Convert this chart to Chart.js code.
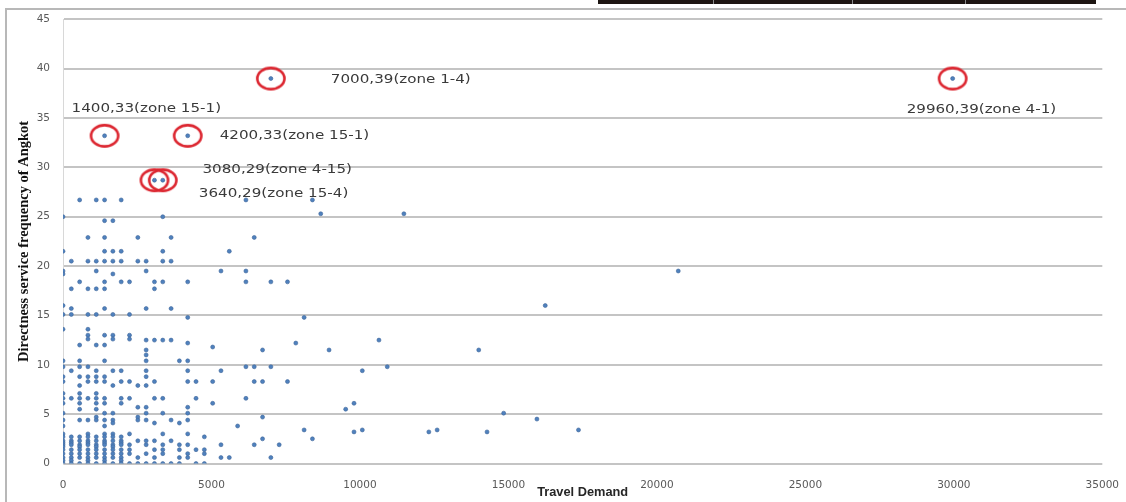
<!DOCTYPE html>
<html>
<head>
<meta charset="utf-8">
<script src="https://cdn.jsdelivr.net/npm/chart.js@4.4.0/dist/chart.umd.min.js"></script>
<style>
  html, body { margin: 0; padding: 0; background: #fff; }
  #wrap { position: relative; width: 1126px; height: 502px; overflow: hidden; }
  #canvas { display: block; }
  #frameTop { position: absolute; left: 6px; top: 8px; width: 1120px; height: 2px; background: #b8b8b8; }
  #frameLeft { position: absolute; left: 5px; top: 8px; width: 2px; height: 494px; background: #b8b8b8; }
  #tableEdge { position: absolute; left: 598px; top: 0; width: 498px; height: 4px; background: #1d1512; }
  .sep { position: absolute; top: 0; width: 1px; height: 4px; background: #8a8a8a; }
</style>
</head>
<body>
<div id="wrap">
  <canvas id="canvas" width="1126" height="502"></canvas>
  <div id="frameTop"></div>
  <div id="frameLeft"></div>
  <div id="tableEdge">
    <div class="sep" style="left:115px"></div>
    <div class="sep" style="left:254px"></div>
    <div class="sep" style="left:367px"></div>
  </div>
</div>
<script>
  // axis ticks
  const yTicks = [0, 5, 10, 15, 20, 25, 30, 35, 40, 45];
  const xTicks = [0, 5000, 10000, 15000, 20000, 25000, 30000, 35000];

  // scatter read row by row: one frequency level, the travel demands found at it
  const freqLevels = [
    26.7, 25.3, 25.0, 24.6, 22.9, 21.5, 20.5, 19.5, 19.2, 18.4,
    17.7, 16.0, 15.7, 15.1, 14.8, 13.6, 13.0, 12.6, 12.5, 12.2,
    12.0, 11.8, 11.5, 11.0, 10.4, 9.8, 9.4, 8.8, 8.3, 7.9,
    7.1, 6.6, 6.1, 5.7, 5.5, 5.1, 4.7, 4.5, 4.4, 4.1,
    3.8, 3.4, 3.2, 3.0, 2.7, 2.5, 2.3, 2.1, 1.9, 1.7,
    1.4, 1.0, 0.6, 0.3, 0
  ];
  const demandByLevel = [
    [560, 1120, 1400, 1960, 6160, 8400],
    [8680, 11480],
    [0, 3360],
    [1400, 1680],
    [840, 1400, 2520, 3640, 6440],
    [0, 1400, 1680, 1960, 3360, 5600],
    [280, 840, 1120, 1400, 1680, 1960, 2520, 2800, 3360, 3640],
    [0, 1120, 2800, 5320, 6160, 20720],
    [0, 1680],
    [560, 1400, 1960, 2240, 3080, 3360, 4200, 6160, 7000, 7560],
    [280, 840, 1120, 1400, 3080],
    [0, 16240],
    [280, 1400, 2800, 3640],
    [0, 280, 840, 1120, 1680, 2240],
    [4200, 8120],
    [0, 840],
    [840, 1400, 1680, 2240],
    [840, 1680, 2240],
    [2800, 3080, 3360, 3640, 10640],
    [4200, 7840],
    [560, 1120, 1400],
    [5040],
    [2800, 6720, 8960, 14000],
    [2800],
    [0, 560, 1400, 2800, 3920, 4200],
    [0, 560, 840, 6160, 6440, 7000, 10920],
    [280, 1120, 1680, 1960, 2800, 4200, 5320, 10080],
    [0, 560, 840, 1120, 1400, 2800],
    [0, 840, 1120, 1400, 1960, 2240, 3080, 4200, 4480, 5040, 6440, 6720, 7560],
    [560, 1680, 2520, 2800],
    [0, 560, 1120],
    [0, 280, 560, 840, 1120, 1400, 1960, 2240, 3080, 3360, 4480, 6160],
    [0, 560, 1120, 1400, 1960, 5040, 9800],
    [2520, 2800, 4200],
    [560, 1120, 9520],
    [0, 1400, 1680, 2800, 3360, 4200, 14840],
    [1120, 2520, 6720],
    [15960],
    [0, 560, 840, 1120, 1400, 1680, 2520, 2800, 3640, 4200],
    [1680, 3080, 3920],
    [0, 1400, 5880],
    [8120, 10080, 12600, 17360],
    [9800, 12320, 14280],
    [0, 840, 1400, 1680, 2240, 3360, 4200],
    [0, 280, 560, 840, 1120, 1400, 1680, 1960, 4760],
    [6720, 8400],
    [0, 280, 560, 840, 1120, 1400, 1680, 1960, 2520, 2800, 3080, 3640],
    [0, 280, 840, 1400, 1960],
    [0, 280, 560, 840, 1120, 1400, 1680, 1960, 2240, 2800, 3360, 3920, 4200, 5320, 6440, 7280],
    [0, 560, 1120, 1680],
    [0, 280, 560, 840, 1120, 1400, 1680, 1960, 2240, 3080, 3360, 3920, 4480, 4760],
    [0, 280, 560, 840, 1120, 1400, 1680, 1960, 2240, 2800, 3360, 4200, 4760],
    [0, 280, 560, 840, 1120, 1400, 1680, 1960, 2520, 3080, 3920, 4200, 5320, 5600, 7000],
    [0, 280, 840, 1400, 1960],
    [0, 280, 560, 840, 1120, 1400, 1680, 1960, 2240, 2520, 2800, 3080, 3360, 3640, 3920, 4480, 4760]
  ];

  // circled points and their notes
  const highlightDemand = [1400, 4200, 7000, 3080, 3360, 29960];
  const highlightFreq = [33.2, 33.2, 39, 28.7, 28.7, 39];
  const highlightLabels = [
    '1400,33(zone 15-1)',
    '4200,33(zone 15-1)',
    '7000,39(zone 1-4)',
    '3080,29(zone 4-15)',
    '3640,29(zone 15-4)',
    '29960,39(zone 4-1)'
  ];
  // where each note sits relative to its point, in px (layout only)
  const labelShift = [[-33, -27], [32, 0], [60, 1], [48, -10], [36, 14], [-46, 31]];

  const cloud = [];
  freqLevels.forEach((f, i) => {
    demandByLevel[i].forEach((d) => cloud.push({ x: d, y: f }));
  });
  const circled = highlightDemand.map((d, i) => ({ x: d, y: highlightFreq[i] }));

  // red ellipse used as the marker of the circle dataset
  const ring = document.createElement('canvas');
  ring.width = 32;
  ring.height = 26;
  const rc = ring.getContext('2d');
  rc.strokeStyle = '#dc2630';
  rc.lineWidth = 2.6;
  rc.beginPath();
  rc.ellipse(16, 13, 13.6, 10.6, 0, 0, Math.PI * 2);
  rc.stroke();

  const calloutPlugin = {
    id: 'callouts',
    afterDatasetsDraw(chart) {
      const { ctx } = chart;
      const x = chart.scales.x;
      const y = chart.scales.y;
      ctx.save();
      ctx.font = '12px "DejaVu Sans"';
      ctx.fillStyle = '#3a3a3a';
      ctx.textBaseline = 'middle';
      highlightLabels.forEach((t, i) => {
        const px = x.getPixelForValue(highlightDemand[i]) + labelShift[i][0];
        const py = y.getPixelForValue(highlightFreq[i]) + labelShift[i][1];
        ctx.save();
        ctx.translate(px, py);
        ctx.scale(1.26, 1);
        ctx.fillText(t, 0, 0);
        ctx.restore();
      });
      ctx.restore();
    },
  };

  const tickFont = { family: 'DejaVu Sans', size: 10.5 };

  let config = {
    type: 'scatter',
    data: {
      datasets: [
        {
          label: 'circled',
          data: circled,
          pointStyle: ring,
          order: 0,
        },
        {
          label: 'Directness',
          data: cloud.concat(circled),
          backgroundColor: '#4f81bd',
          borderColor: '#3f679a',
          borderWidth: 0.6,
          pointRadius: 2,
          order: 1,
        },
      ],
    },
    options: {
      responsive: false,
      animation: false,
      events: [],
      layout: { padding: { left: 0, right: 20, top: 18.5, bottom: 0 } },
      plugins: {
        legend: { display: false },
        tooltip: { enabled: false },
      },
      scales: {
        x: {
          type: 'linear',
          min: 0,
          max: 35000,
          afterBuildTicks: (s) => { s.ticks = xTicks.map((v) => ({ value: v })); },
          afterFit: (s) => { s.height = 38.5; },
          grid: { display: false },
          border: { display: false },
          ticks: {
            color: '#595959',
            font: tickFont,
            padding: 7,
            maxRotation: 0,
            callback: (v) => String(v),
          },
          title: {
            display: true,
            text: 'Travel Demand',
            color: '#262626',
            font: { family: 'Liberation Sans', size: 12.8, weight: 'bold' },
            padding: { top: 0, bottom: 2.3 },
          },
        },
        y: {
          min: 0,
          max: 45,
          afterBuildTicks: (s) => { s.ticks = yTicks.map((v) => ({ value: v })); },
          afterFit: (s) => { s.width = 63; },
          grid: { color: '#c4c4c4', lineWidth: 2, drawTicks: false },
          border: { display: true, color: '#d8d8d8', width: 1 },
          ticks: {
            color: '#595959',
            font: tickFont,
            padding: 13,
            callback: (v) => String(v),
          },
          title: {
            display: true,
            text: 'Directness service frequency of Angkot',
            color: '#111111',
            font: { family: 'Liberation Serif', size: 14.5, weight: 'bold' },
            padding: { top: 16, bottom: 0 },
          },
        },
      },
    },
    plugins: [calloutPlugin],
  };

  const ctx = document.getElementById('canvas').getContext('2d');
  window.myChart = new Chart(ctx, config);
</script>
</body>
</html>
